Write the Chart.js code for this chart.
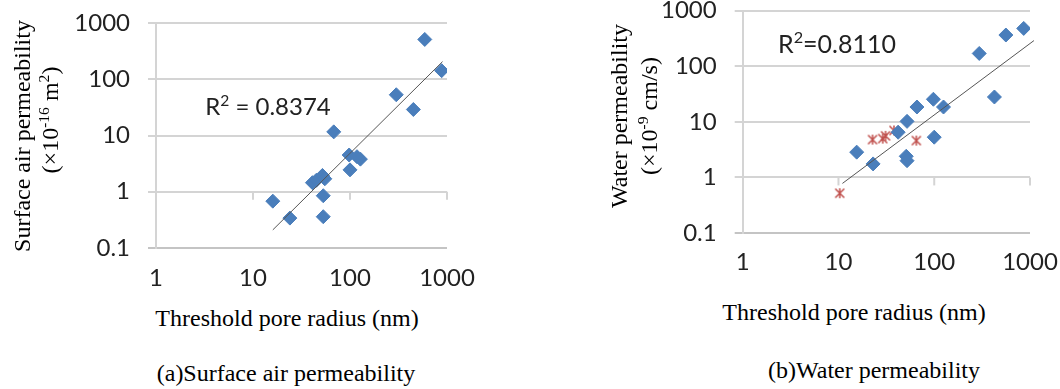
<!DOCTYPE html>
<html>
<head>
<meta charset="utf-8">
<script src="https://cdn.jsdelivr.net/npm/chart.js@4.4.1/dist/chart.umd.min.js"></script>
<style>
  html, body { margin: 0; padding: 0; background: #fff; }
  #page { position: relative; width: 1060px; height: 389px; overflow: hidden; }
  canvas { position: absolute; }
  .t { position: absolute; white-space: nowrap; color: #000; line-height: 1; }
  .serif { font-family: "Liberation Serif", "Times New Roman", serif; }
  .sans { font-family: Lato, "Open Sans", sans-serif; color: #222; }
  .h { transform: translate(-50%, -50%); }
  .v { transform: translate(-50%, -50%) rotate(-90deg); }
  sup { font-size: 0.65em; vertical-align: 0.6em; line-height: 0; }
</style>
</head>
<body>
<div id="page">
  <canvas id="airChart" width="480" height="300" style="left:0;top:0"></canvas>
  <canvas id="waterChart" width="500" height="300" style="left:560px;top:-10px"></canvas>

  <div class="t serif v" style="left:22px;top:136px;font-size:24px">Surface air permeability</div>
  <div class="t serif v" style="left:50px;top:120px;font-size:24px">(×10<sup>-16</sup> m<sup>2</sup>)</div>
  <div class="t sans h" style="left:268px;top:106px;font-size:24px">R<sup>2</sup> = 0.8374</div>
  <div class="t serif h" style="left:287px;top:318px;font-size:24px">Threshold pore radius (nm)</div>
  <div class="t serif h" style="left:286px;top:373px;font-size:24px">(a)Surface air permeability</div>

  <div class="t serif v" style="left:619px;top:116px;font-size:24px">Water permeability</div>
  <div class="t serif v" style="left:649px;top:116px;font-size:24px">(×10<sup>-9</sup> cm/s)</div>
  <div class="t sans h" style="left:837px;top:43px;font-size:25px">R<sup>2</sup>=0.8110</div>
  <div class="t serif h" style="left:854px;top:312px;font-size:24px">Threshold pore radius (nm)</div>
  <div class="t serif h" style="left:874px;top:370px;font-size:24px">(b)Water permeability</div>
</div>
<script>
// tick labels
const xTickValues = [1, 10, 100, 1000];
const yTickValues = [0.1, 1, 10, 100, 1000];

// (a) surface air permeability vs threshold pore radius
const airRadius = [16, 24, 53, 53, 41, 45, 52, 55, 68, 98, 100, 128, 118, 300, 450, 590, 880];
const airPerm = [0.68, 0.34, 0.36, 0.85, 1.45, 1.6, 1.95, 1.7, 11.6, 4.5, 2.45, 3.8, 4.2, 53, 29, 510, 142];
const airTrendRadius = [16, 900];
const airTrendPerm = [0.21, 206];

// (b) water permeability vs threshold pore radius
const waterRadius = [15.5, 23, 42, 52, 51, 52, 66, 98, 100, 125, 295, 425, 560, 860];
const waterPerm = [2.85, 1.75, 6.5, 10.2, 2.4, 2.0, 18.5, 25.5, 5.3, 18.5, 170, 28, 365, 480];
const waterRadiusRed = [10.3, 22.7, 29, 31, 38, 65];
const waterPermRed = [0.52, 4.8, 5.0, 5.6, 7.0, 4.6];
const waterTrendRadius = [11, 1100];
const waterTrendPerm = [0.78, 290];

const blue = "#4a7ebb";
const red = "#c0504d";
const gridColor = "#d4d4d4";
const tickFont = { family: "Lato, 'Open Sans', sans-serif", size: 24 };

const toPoints = (xs, ys) => xs.map((x, i) => ({ x, y: ys[i] }));

function makeAsterisk(size, color) {
    const c = document.createElement("canvas");
    c.width = size;
    c.height = size;
    const g = c.getContext("2d");
    const a = 1.5;
    const b = size - 1.5;
    const m = size / 2;
    g.strokeStyle = color;
    g.lineWidth = 1.5;
    g.beginPath();
    g.moveTo(a, a); g.lineTo(b, b);
    g.moveTo(b, a); g.lineTo(a, b);
    g.moveTo(m, a - 0.5); g.lineTo(m, b + 0.5);
    g.stroke();
    return c;
}

// short marks hanging under the y = 1 line
const crossTicks = {
    id: "crossTicks",
    beforeDatasetsDraw(chart) {
        const { ctx, scales: { x, y } } = chart;
        const y0 = y.getPixelForValue(1);
        ctx.save();
        ctx.strokeStyle = gridColor;
        ctx.lineWidth = 2;
        xTickValues.slice(1).forEach(v => {
            const px = x.getPixelForValue(v);
            ctx.beginPath();
            ctx.moveTo(px, y0);
            ctx.lineTo(px, y0 + 8);
            ctx.stroke();
        });
        ctx.restore();
    }
};

// keep the plot area where the layout padding puts it
function pinScale(s, size) {
    if (s.isHorizontal()) {
        s.height = size;
    } else {
        s.width = size;
    }
    s.paddingTop = 0;
    s.paddingBottom = 0;
    s.paddingLeft = 0;
    s.paddingRight = 0;
}

function buildChart(canvasId, datasets, frame) {
    const canvas = document.getElementById(canvasId);
    return new Chart(canvas, {
        type: "scatter",
        data: { datasets },
        options: {
            responsive: false,
            animation: false,
            layout: {
                autoPadding: false,
                padding: { top: frame.top, right: frame.right, left: 0, bottom: 0 }
            },
            plugins: { legend: { display: false }, tooltip: { enabled: false } },
            scales: {
                x: {
                    type: "logarithmic",
                    min: 1,
                    max: 1000,
                    afterBuildTicks: s => { s.ticks = xTickValues.map(v => ({ value: v })); },
                    afterFit: s => pinScale(s, frame.xHeight),
                    grid: { display: false },
                    border: { display: false },
                    ticks: {
                        font: tickFont,
                        color: "#222",
                        padding: frame.xPad,
                        maxRotation: 0,
                        autoSkip: false,
                        callback: v => String(v)
                    }
                },
                y: {
                    type: "logarithmic",
                    min: 0.1,
                    max: 1000,
                    afterBuildTicks: s => { s.ticks = yTickValues.map(v => ({ value: v })); },
                    afterFit: s => pinScale(s, frame.yWidth),
                    grid: {
                        color: c => (c.tick && c.tick.value === 0.1 ? "#c4c4c4" : gridColor),
                        lineWidth: 2,
                        tickLength: 8
                    },
                    border: { display: true, color: gridColor, width: 2 },
                    ticks: {
                        font: tickFont,
                        color: "#222",
                        padding: 18,
                        autoSkip: false,
                        callback: v => String(v)
                    }
                }
            }
        },
        plugins: [crossTicks]
    });
}

const trendStyle = {
    type: "line",
    borderColor: "#555",
    borderWidth: 1,
    pointRadius: 0,
    fill: false
};

buildChart("airChart", [
    { ...trendStyle, data: toPoints(airTrendRadius, airTrendPerm) },
    {
        data: toPoints(airRadius, airPerm),
        pointStyle: "rectRot",
        pointRadius: 7,
        backgroundColor: blue,
        borderColor: blue
    }
], { top: 23, right: 33, xHeight: 52, xPad: 8, yWidth: 156 });

const asterisk = makeAsterisk(12, red);

buildChart("waterChart", [
    { ...trendStyle, clip: false, data: toPoints(waterTrendRadius, waterTrendPerm) },
    {
        data: toPoints(waterRadius, waterPerm),
        pointStyle: "rectRot",
        pointRadius: 7,
        backgroundColor: blue,
        borderColor: blue
    },
    {
        data: toPoints(waterRadiusRed, waterPermRed),
        pointStyle: asterisk,
        pointRadius: 6
    }
], { top: 20.7, right: 30, xHeight: 57, xPad: 7, yWidth: 182.7 });
</script>
</body>
</html>
